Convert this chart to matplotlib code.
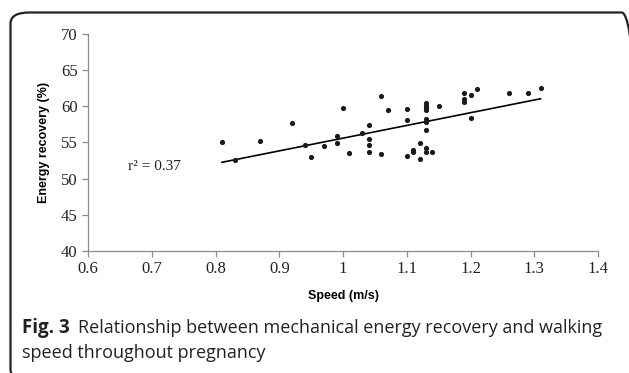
import matplotlib.pyplot as plt
import numpy as np
from matplotlib.patches import FancyBboxPatch

# Speed (m/s) and energy recovery (%)
speed = [0.81, 0.83, 0.87, 0.92, 0.94, 0.95, 0.97, 0.99, 0.99, 1.00,
         1.01, 1.03, 1.04, 1.04, 1.04, 1.04, 1.06, 1.06, 1.07, 1.10,
         1.10, 1.10, 1.11, 1.11, 1.12, 1.12, 1.13, 1.13, 1.13, 1.13,
         1.13, 1.13, 1.13, 1.13, 1.13, 1.14, 1.15, 1.19, 1.19, 1.19,
         1.20, 1.20, 1.21, 1.26, 1.29, 1.31]
recovery = [55.0, 52.6, 55.25, 57.7, 54.7, 53.0, 54.5, 55.9, 54.9, 59.8,
            53.6, 56.3, 57.4, 55.5, 54.65, 53.7, 61.4, 53.4, 59.45, 59.7,
            58.1, 53.1, 53.7, 54.0, 54.9, 52.7, 60.4, 60.1, 59.8, 59.5,
            58.2, 57.8, 56.7, 54.2, 53.7, 53.7, 60.1, 61.9, 61.0, 60.55,
            61.6, 58.4, 62.4, 61.8, 61.9, 62.6]

# trend line end points as drawn in the figure
trend_x = [0.81, 1.31]
trend_y = [52.26, 61.05]

xticks = [0.6, 0.7, 0.8, 0.9, 1.0, 1.1, 1.2, 1.3, 1.4]
xticklabels = ['0.6', '0.7', '0.8', '0.9', '1', '1.1', '1.2', '1.3', '1.4']
yticks = [40, 45, 50, 55, 60, 65, 70]

fig = plt.figure(figsize=(6.29, 3.73), dpi=100)
ax = fig.add_axes([88 / 629, 1 - 251 / 373, 510 / 629, 217 / 373])

ax.scatter(speed, recovery, s=14, color='#1a1a1a', zorder=3, linewidths=0)
ax.plot(trend_x, trend_y, color='black', lw=1.2)

ax.set_xlim(0.6, 1.4)
ax.set_ylim(40, 70)
ax.set_xticks(xticks)
ax.set_xticklabels(xticklabels)
ax.set_yticks(yticks)
for sp in ['top', 'right']:
    ax.spines[sp].set_visible(False)
for sp in ['left', 'bottom']:
    ax.spines[sp].set_color('#8c8c8c')
    ax.spines[sp].set_linewidth(0.9)
ax.tick_params(colors='#8c8c8c', length=4, width=0.9, labelcolor='#222222')
for lab in ax.get_xticklabels() + ax.get_yticklabels():
    lab.set_family('Liberation Serif')
    lab.set_fontsize(12)

ax.set_xlabel('Speed (m/s)', family='Liberation Sans', fontweight='bold',
              fontsize=9, labelpad=9)
ax.set_ylabel('Energy recovery (%)', family='Liberation Sans', fontweight='bold',
              fontsize=9, labelpad=8)

ax.text(0.663, 51.2, 'r² = 0.37', family='Liberation Serif', fontsize=11,
        color='#222222')

# caption
fig.text(22 / 629, 1 - 333 / 373, 'Fig. 3', family='Open Sans', fontweight='bold',
         fontsize=13.5, color='#222222', va='baseline')
fig.text(78 / 629, 1 - 333 / 373,
         'Relationship between mechanical energy recovery and walking',
         family='Open Sans', fontsize=13, color='#222222', va='baseline')
fig.text(22 / 629, 1 - 358 / 373, 'speed throughout pregnancy',
         family='Open Sans', fontsize=13, color='#222222', va='baseline')

# rounded frame around the figure
frame = FancyBboxPatch((10.5 / 629, -0.02), 630 / 629, 1 - 12.5 / 373 + 0.02,
                       boxstyle='round,pad=0,rounding_size=0.03',
                       transform=fig.transFigure, fill=False,
                       edgecolor='#222222', lw=1.6, clip_on=False)
fig.patches.append(frame)

fig.savefig('out.png', dpi=100)
